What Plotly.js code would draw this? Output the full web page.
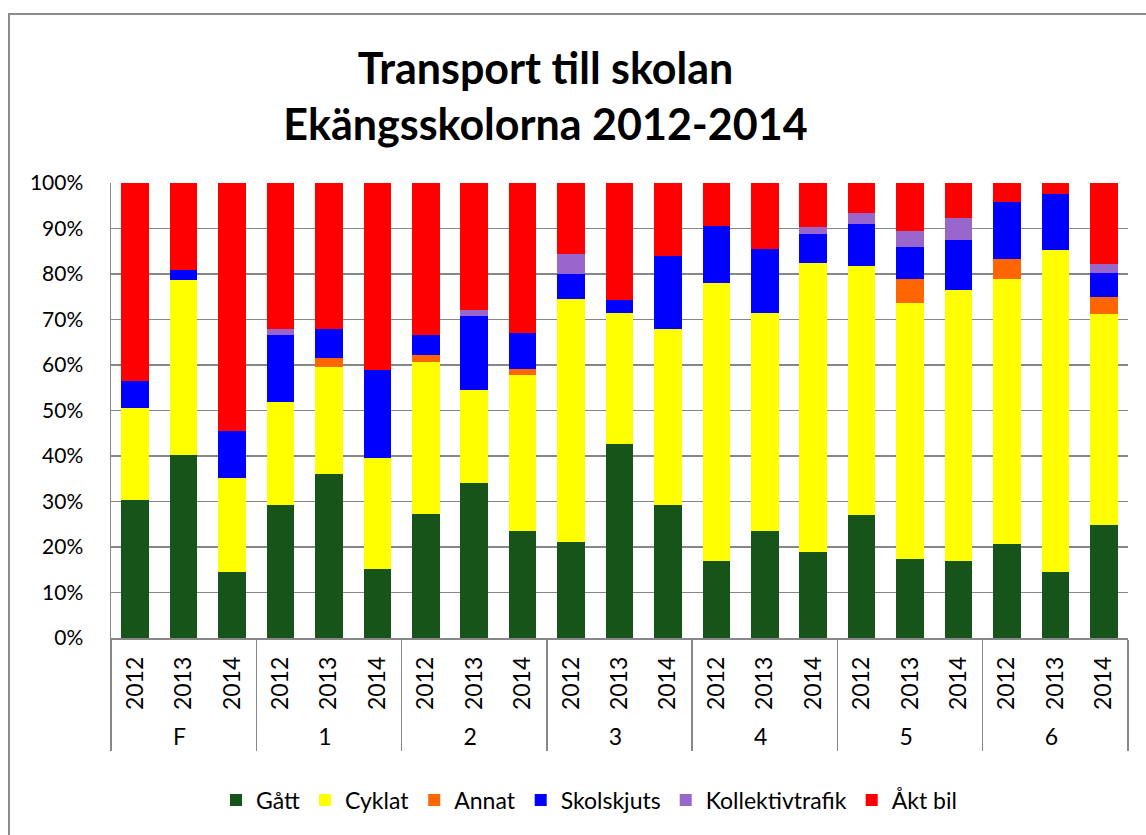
<!DOCTYPE html>
<html>
<head>
<meta charset="utf-8">
<script src="https://cdn.plot.ly/plotly-3.0.1.min.js"></script>
<style>
  body { margin: 0; background: #fff; overflow: hidden; }
  #chart { width: 1146px; height: 835px; }
  #frame {
    position: absolute; left: 8px; top: 13px; width: 1200px; height: 900px;
    border: 2px solid #8c8c8c; pointer-events: none;
  }
</style>
</head>
<body>
<div id="chart"></div>
<div id="frame"></div>
<script>
// årskurs och år
const grupper = ['F','F','F','1','1','1','2','2','2','3','3','3','4','4','4','5','5','5','6','6','6'];
const ar = ['2012','2013','2014','2012','2013','2014','2012','2013','2014','2012','2013','2014',
            '2012','2013','2014','2012','2013','2014','2012','2013','2014'];

// andel i procent per färdsätt
const gatt     = [30.3, 40.3, 14.5, 29.2, 36.0, 15.2, 27.3, 34.0, 23.5, 21.0, 42.7, 29.2, 17.0, 23.6, 18.8, 27.1, 17.4, 17.0, 20.7, 14.4, 24.8];
const cyklat   = [20.3, 38.3, 20.7, 22.7, 23.5, 24.4, 33.4, 20.4, 34.3, 53.6, 28.7, 38.7, 61.1, 47.8, 63.7, 54.6, 56.2, 59.4, 58.3, 70.9, 46.5];
const annat    = [0, 0, 0, 0, 2.1, 0, 1.6, 0, 1.3, 0, 0, 0, 0, 0, 0, 0, 5.3, 0, 4.3, 0, 3.6];
const skolskjuts = [5.8, 2.2, 10.2, 14.6, 6.4, 19.2, 4.2, 16.4, 7.9, 5.5, 2.8, 16.0, 12.5, 14.2, 6.3, 9.2, 7.0, 11.0, 12.5, 12.2, 5.3];
const kollektiv  = [0, 0, 0, 1.5, 0, 0, 0, 1.3, 0, 4.4, 0, 0, 0, 0, 1.6, 2.4, 3.6, 4.8, 0, 0, 1.9];
const aktBil   = [43.6, 19.2, 54.6, 32.0, 32.0, 41.2, 33.5, 27.9, 33.0, 15.5, 25.8, 16.1, 9.4, 14.4, 9.6, 6.7, 10.5, 7.8, 4.2, 2.5, 17.9];

const serier = [
  { name: 'Gått', y: gatt, color: '#17541a' },
  { name: 'Cyklat', y: cyklat, color: '#ffff00' },
  { name: 'Annat', y: annat, color: '#ff6600' },
  { name: 'Skolskjuts', y: skolskjuts, color: '#0000ff' },
  { name: 'Kollektivtrafik', y: kollektiv, color: '#9966cc' },
  { name: 'Åkt bil', y: aktBil, color: '#ff0000' }
];

const font = 'Lato, "Open Sans", sans-serif';

const traces = serier.map(s => ({
  type: 'bar',
  name: s.name,
  x: [grupper, ar],
  y: s.y,
  marker: { color: s.color, line: { width: 0 } },
  hoverinfo: 'name+y'
}));

const layout = {
  width: 1146,
  height: 835,
  barmode: 'stack',
  bargap: 0.43,
  paper_bgcolor: '#fff',
  plot_bgcolor: '#fff',
  margin: { l: 111, r: 18, t: 183, b: 197 },
  font: { family: font, size: 21, color: '#000' },
  title: {
    text: 'Transport till skolan<br>Ekängsskolorna 2012-2014',
    font: { family: font, size: 43, color: '#000', weight: 'bold' },
    x: 0.476, xanchor: 'center', y: 0.899, yanchor: 'middle'
  },
  xaxis: {
    type: 'multicategory',
    tickangle: -90,
    showline: true,
    linecolor: '#878787',
    linewidth: 1.5,
    showdividers: true,
    dividercolor: '#878787',
    dividerwidth: 1.5,
    ticks: '',
    ticklabelstandoff: 8,
    tickfont: { family: font, size: 23 }
  },
  yaxis: {
    range: [0, 100],
    dtick: 10,
    ticksuffix: '%',
    showgrid: true,
    gridcolor: '#878787',
    gridwidth: 1.5,
    zeroline: false,
    showline: true,
    linecolor: '#878787',
    linewidth: 1.5,
    ticks: '',
    ticklabelstandoff: 22,
    tickfont: { family: font, size: 21 }
  },
  legend: {
    orientation: 'h',
    x: 0.47, xanchor: 'center',
    y: -0.356, yanchor: 'middle',
    font: { family: font, size: 23 },
    itemclick: false,
    traceorder: 'normal'
  },
  showlegend: true
};

Plotly.newPlot('chart', traces, layout, { displayModeBar: false, staticPlot: true });
</script>
</body>
</html>
